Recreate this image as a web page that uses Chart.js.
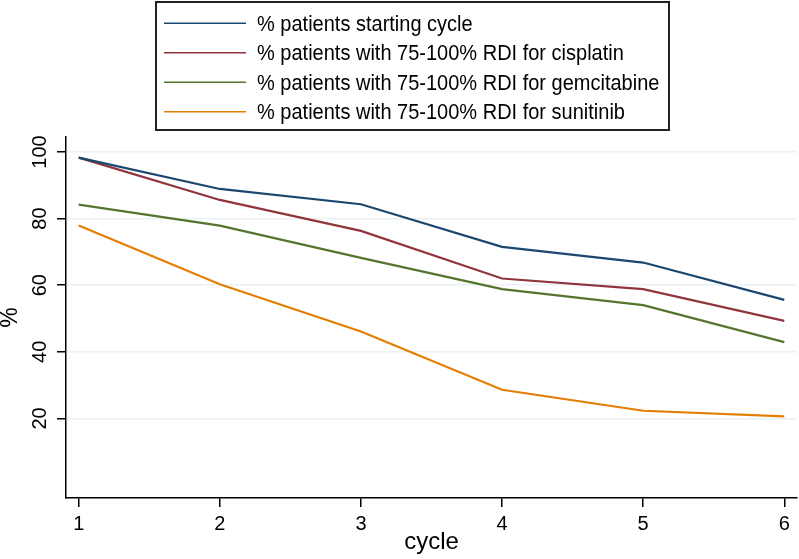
<!DOCTYPE html>
<html>
<head>
<meta charset="utf-8">
<script src="https://cdn.jsdelivr.net/npm/chart.js@4/dist/chart.umd.min.js"></script>
<style>
  body { margin: 0; background: white; }
  #grafico { display: block; }
</style>
</head>
<body>
<canvas id="grafico" width="799" height="559"></canvas>
<script>
// dados
var ciclos = [1, 2, 3, 4, 5, 6];
var iniciando = [98.3, 88.9, 84.3, 71.5, 66.8, 55.6];
var cisplatina = [98.3, 85.6, 76.3, 62.0, 58.8, 49.3];
var gemcitabina = [84.2, 77.9, 68.2, 58.8, 54.0, 42.9];
var sunitinibe = [77.9, 60.3, 46.1, 28.6, 22.3, 20.6];
var ticksX = [1, 2, 3, 4, 5, 6];
var ticksY = [20, 40, 60, 80, 100];

var nomes = [
    '% patients starting cycle',
    '% patients with 75-100% RDI for cisplatin',
    '% patients with 75-100% RDI for gemcitabine',
    '% patients with 75-100% RDI for sunitinib'
];
var cores = ['#1a476f', '#90353b', '#55752f', '#e37e00'];
var fonte = '"Liberation Sans", Arial, sans-serif';

function pontos(valores) {
    return ciclos.map(function (c, i) { return { x: c, y: valores[i] }; });
}

function serie(i, valores) {
    return {
        label: nomes[i],
        data: pontos(valores),
        borderColor: cores[i],
        backgroundColor: cores[i],
        borderWidth: 2.2,
        pointRadius: 0,
        tension: 0,
        fill: false
    };
}

// legenda com caixa, no estilo do Stata
var legendaCaixa = {
    id: 'legendaCaixa',
    afterDraw: function (chart) {
        var ctx = chart.ctx;
        ctx.save();
        ctx.strokeStyle = '#222';
        ctx.lineWidth = 2;
        ctx.strokeRect(156, 2, 513, 128);
        ctx.font = '20px ' + fonte;
        ctx.textBaseline = 'middle';
        ctx.fillStyle = '#000';
        chart.data.datasets.forEach(function (ds, i) {
            var y = 23.3 + i * 29.5;
            ctx.strokeStyle = ds.borderColor;
            ctx.lineWidth = 1.5;
            ctx.beginPath();
            ctx.moveTo(164, y);
            ctx.lineTo(246, y);
            ctx.stroke();
            // texto um pouco esticado na vertical
            ctx.save();
            ctx.translate(257, y + 1.5);
            ctx.scale(1, 1.12);
            ctx.fillText(ds.label, 0, 0);
            ctx.restore();
        });
        ctx.restore();
    }
};

var ctx = document.getElementById('grafico').getContext('2d');
var grafico = new Chart(ctx, {
    type: 'line',
    data: {
        datasets: [
            serie(0, iniciando),
            serie(1, cisplatina),
            serie(2, gemcitabina),
            serie(3, sunitinibe)
        ]
    },
    options: {
        responsive: false,
        animation: false,
        devicePixelRatio: 1,
        layout: { padding: { top: 137, right: 2, left: 0, bottom: 0 } },
        plugins: {
            legend: { display: false },
            tooltip: { enabled: false }
        },
        scales: {
            x: {
                type: 'linear',
                min: 0.91,
                max: 6.09,
                afterBuildTicks: function (s) {
                    s.ticks = ticksX.map(function (v) { return { value: v }; });
                },
                afterFit: function (s) { s.height = 61; },
                grid: {
                    drawOnChartArea: false,
                    color: '#000',
                    tickColor: '#000',
                    tickLength: 9,
                    lineWidth: 1.5
                },
                border: { color: '#000', width: 1.5 },
                ticks: {
                    color: '#000',
                    padding: 5,
                    maxRotation: 0,
                    font: { family: fonte, size: 20 }
                },
                title: {
                    display: true,
                    text: 'cycle',
                    color: '#000',
                    padding: { top: 0, bottom: 2 },
                    font: { family: fonte, size: 24 }
                }
            },
            y: {
                min: -3.9,
                max: 104.5,
                afterBuildTicks: function (s) {
                    s.ticks = ticksY.map(function (v) { return { value: v }; });
                },
                afterFit: function (s) { s.width = 66; },
                grid: {
                    color: '#eaf2f3',
                    tickColor: '#000',
                    tickLength: 9,
                    lineWidth: 1.5
                },
                border: { color: '#000', width: 1.5 },
                ticks: {
                    color: '#000',
                    minRotation: 90,
                    maxRotation: 90,
                    crossAlign: 'center',
                    padding: 0,
                    font: { family: fonte, size: 20 }
                },
                title: {
                    display: true,
                    text: '%',
                    color: '#000',
                    padding: 0,
                    font: { family: fonte, size: 23, lineHeight: 0.95 }
                }
            }
        }
    },
    plugins: [legendaCaixa]
});
</script>
</body>
</html>
